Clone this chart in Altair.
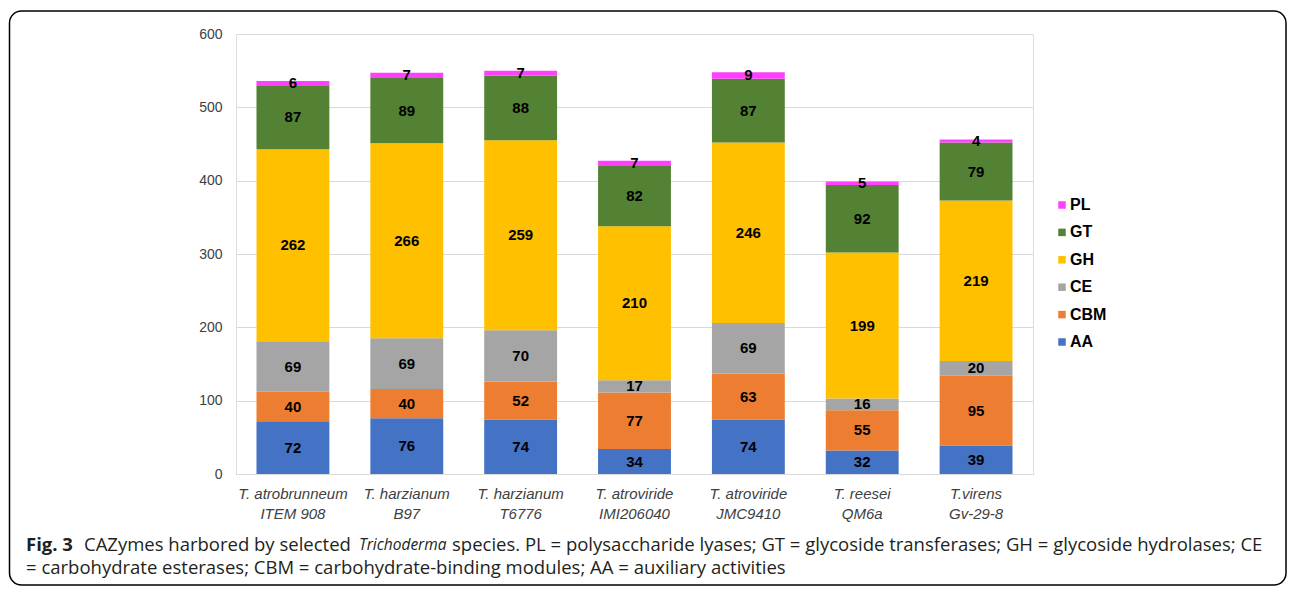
import altair as alt
import pandas as pd

species = ["T. atrobrunneum\nITEM 908", "T. harzianum\nB97", "T. harzianum\nT6776",
           "T. atroviride\nIMI206040", "T. atroviride\nJMC9410", "T. reesei\nQM6a", "T.virens\nGv-29-8"]
categories = ["AA", "CBM", "CE", "GH", "GT", "PL"]
AA = [72, 76, 74, 34, 74, 32, 39]
CBM = [40, 40, 52, 77, 63, 55, 95]
CE = [69, 69, 70, 17, 69, 16, 20]
GH = [262, 266, 259, 210, 246, 199, 219]
GT = [87, 89, 88, 82, 87, 92, 79]
PL = [6, 7, 7, 7, 9, 5, 4]
colors = {"PL": "#FF40FF", "GT": "#548235", "GH": "#FFC000", "CE": "#A5A5A5", "CBM": "#ED7D31", "AA": "#4472C4"}
legend_order = ["PL", "GT", "GH", "CE", "CBM", "AA"]

series = {"AA": AA, "CBM": CBM, "CE": CE, "GH": GH, "GT": GT, "PL": PL}
rows = []
for ci, c in enumerate(categories):
    for si, s in enumerate(species):
        rows.append({"species": s, "cat": c, "order": ci, "value": series[c][si]})
df = pd.DataFrame(rows)

W, H = 797, 440
PAD_L, PAD_T = 228, 26
CANVAS_W, CANVAS_H = 1279, 578

base = alt.Chart(df).transform_stack(
    stack="value", groupby=["species"], as_=["v0", "v1"],
    sort=[alt.SortField("order", order="ascending")]
).transform_calculate(mid="(datum.v0 + datum.v1) / 2")

xenc = alt.X("species:N", sort=species, title=None,
             scale=alt.Scale(paddingInner=0.36, paddingOuter=0.18),
             axis=alt.Axis(labelAngle=0, labelExpr="split(datum.label, '\\n')",
                           labelFont="Liberation Sans", labelFontSize=15, labelFontStyle="italic",
                           labelColor="#404040", labelPadding=12, labelLineHeight=20,
                           ticks=False, domainColor="#d9d9d9", domainWidth=1, grid=False))

bars = base.mark_bar().encode(
    x=xenc,
    y=alt.Y("v0:Q", title=None, scale=alt.Scale(domain=[0, 600], nice=False),
            axis=alt.Axis(values=[0, 100, 200, 300, 400, 500, 600], grid=True, gridColor="#d9d9d9",
                          domain=False, ticks=False, labelFont="Liberation Sans", labelFontSize=14,
                          labelColor="#404040", labelPadding=14)),
    y2="v1:Q",
    color=alt.Color("cat:N", scale=alt.Scale(domain=legend_order, range=[colors[c] for c in legend_order]),
                    legend=alt.Legend(title=None, orient="none", legendX=818, legendY=163,
                                      symbolType="square", symbolSize=56, symbolStrokeWidth=0,
                                      labelFont="Liberation Sans", labelFontSize=16, labelFontWeight="bold",
                                      labelColor="#000000", rowPadding=11.4, labelOffset=0, padding=0)),
)

labels = base.mark_text(font="Liberation Sans", fontSize=15, fontWeight="bold", color="#000000",
                        baseline="middle").encode(
    x=alt.X("species:N", sort=species),
    y=alt.Y("mid:Q"),
    text="value:Q",
)

cap_y1, cap_y2 = 511, 534
cap_font = "Open Sans"
cap_color = "#231f20"
cap_pieces = [
    ("Fig. 3", -210, cap_y1, "bold", "normal", 18.5),
    ("CAZymes harbored by selected", -152, cap_y1, "normal", "normal", 18.5),
    ("Trichoderma", 123, cap_y1, "normal", "italic", 15.5),
    ("species. PL = polysaccharide lyases; GT = glycoside transferases; GH = glycoside hydrolases; CE", 216, cap_y1, "normal", "normal", 18.5),
    ("= carbohydrate esterases; CBM = carbohydrate-binding modules; AA = auxiliary activities", -210, cap_y2, "normal", "normal", 18.5),
]
caps = []
for t, x, y, w, st, fs in cap_pieces:
    caps.append(alt.Chart(alt.Data(values=[{"t": t}])).mark_text(
        align="left", baseline="middle", font=cap_font, fontSize=fs, fontWeight=w, fontStyle=st,
        color=cap_color).encode(x=alt.value(x), y=alt.value(y), text="t:N"))

border = alt.Chart(alt.Data(values=[{}])).mark_rect(
    filled=False, stroke="#000000", strokeWidth=1.5, cornerRadius=12).encode(
    x=alt.value(-226.5), x2=alt.value(1050), y=alt.value(-23), y2=alt.value(551))

chart = alt.layer(bars, labels, border, *caps).properties(
    width=W, height=H,
    autosize=alt.AutoSizeParams(type="none"),
    padding={"left": PAD_L, "top": PAD_T, "right": CANVAS_W - PAD_L - W, "bottom": CANVAS_H - PAD_T - H},
).configure_view(stroke=None).configure(background="white")

chart.save("out.html", embed_options={"renderer": "svg", "actions": False})
